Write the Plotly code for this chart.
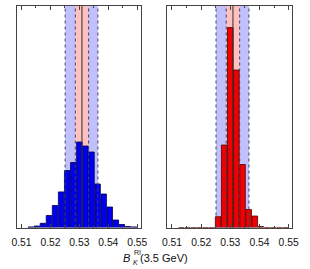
import plotly.graph_objects as go

# bin centres (B_K values) and histogram heights (arbitrary units)
bin_centers = [0.5132, 0.5153, 0.5174, 0.5195, 0.5216, 0.5237, 0.5258, 0.5279, 0.5300,
               0.5321, 0.5342, 0.5363, 0.5384, 0.5405, 0.5426, 0.5447, 0.5468, 0.5489]
left_counts = [0.6, 1.5, 4.2, 12, 22, 35.6, 57, 65, 85.5,
               81.5, 75.5, 43.5, 33.5, 20.5, 7.5, 3, 1, 0.6]
right_counts = [0, 0, 0, 0, 0, 0, 10.8, 82.5, 200,
                157.5, 63, 18, 11.5, 1, 0, 0, 0, 0]

central = 0.5309
stat_band = [0.5286, 0.5332]
total_band = [0.5251, 0.5364]
tick_vals = [0.51, 0.52, 0.53, 0.54, 0.55]
tick_text = ["0.51", "0.52", "0.53", "0.54", "0.55"]
title_main = "<i>B</i>"
title_sub = "<i>K</i>"
title_sup = "RI"
title_rest = "(3.5 GeV)"

W, H = 310, 269
fam = "Liberation Sans, Arial, sans-serif"
font = dict(family=fam, size=11, color="#111")
tfont = dict(family=fam, size=10.3, color="#111")
small = dict(family=fam, size=7, color="#111")

fig = go.Figure()
fig.add_trace(go.Bar(x=bin_centers, y=left_counts, width=0.0019,
                     marker=dict(color="#0000f0", line=dict(color="#000050", width=0.8)),
                     xaxis="x", yaxis="y", showlegend=False, hoverinfo="skip"))
fig.add_trace(go.Bar(x=bin_centers, y=right_counts, width=0.0019,
                     marker=dict(color="#f00000", line=dict(color="#500000", width=0.8)),
                     xaxis="x2", yaxis="y2", showlegend=False, hoverinfo="skip"))

shapes = []
for xa, ya in [("x", "y domain"), ("x2", "y2 domain")]:
    shapes.append(dict(type="rect", xref=xa, yref=ya, x0=total_band[0], x1=total_band[1],
                       y0=0, y1=1, fillcolor="#c0c0fc", line=dict(width=0), layer="below"))
    shapes.append(dict(type="rect", xref=xa, yref=ya, x0=stat_band[0], x1=stat_band[1],
                       y0=0, y1=1, fillcolor="#ffc0c0", line=dict(width=0), layer="below"))
    for xv in total_band + stat_band:
        shapes.append(dict(type="line", xref=xa, yref=ya, x0=xv, x1=xv, y0=0, y1=1,
                           line=dict(color="#404060", width=1, dash="dot"), layer="above"))
    shapes.append(dict(type="line", xref=xa, yref=ya, x0=central, x1=central, y0=0, y1=1,
                       line=dict(color="#303030", width=1), layer="above"))

xrange = [0.5083, 0.5513]
yd = [1 - 227.5 / H, 1 - 6 / H]
axis_common = dict(range=xrange, tickvals=tick_vals, ticktext=tick_text, ticks="inside",
                   ticklen=4, tickcolor="#444", showline=True, linecolor="#444", linewidth=1,
                   mirror="ticks", showgrid=False, zeroline=False, tickfont=tfont,
                   ticklabelstandoff=5,
                   minor=dict(dtick=0.005, tick0=0.51, ticks="inside", ticklen=2, tickcolor="#444"))
yaxis_common = dict(range=[0, 221.5], showticklabels=False, ticks="", showline=True,
                    linecolor="#444", linewidth=1, mirror=True, showgrid=False, zeroline=False,
                    domain=yd)

def ann(text, xpx, ypx, f, xanchor):
    return dict(text=text, x=xpx / W, y=1 - ypx / H, xref="paper", yref="paper",
                showarrow=False, xanchor=xanchor, yanchor="middle", font=f)

fig.update_layout(
    width=W, height=H, margin=dict(l=0, r=0, t=0, b=0),
    paper_bgcolor="white", plot_bgcolor="white", font=font, barmode="overlay",
    xaxis=dict(domain=[12 / W, 141 / W], anchor="y", **axis_common),
    yaxis=dict(anchor="x", **yaxis_common),
    xaxis2=dict(domain=[168 / W, 298 / W], anchor="y2", **axis_common),
    yaxis2=dict(anchor="x2", **yaxis_common),
    shapes=shapes,
    annotations=[
        ann(title_main, 132, 257.5, font, "right"),
        ann(title_sub, 130.5, 262, small, "left"),
        ann(title_sup, 131.3, 252, small, "left"),
        ann(title_rest, 138, 257.5, font, "left"),
    ],
)
fig.write_html("out.html", config={"displayModeBar": False},
               post_script="document.body.style.margin='0';document.body.style.overflow='hidden';")
